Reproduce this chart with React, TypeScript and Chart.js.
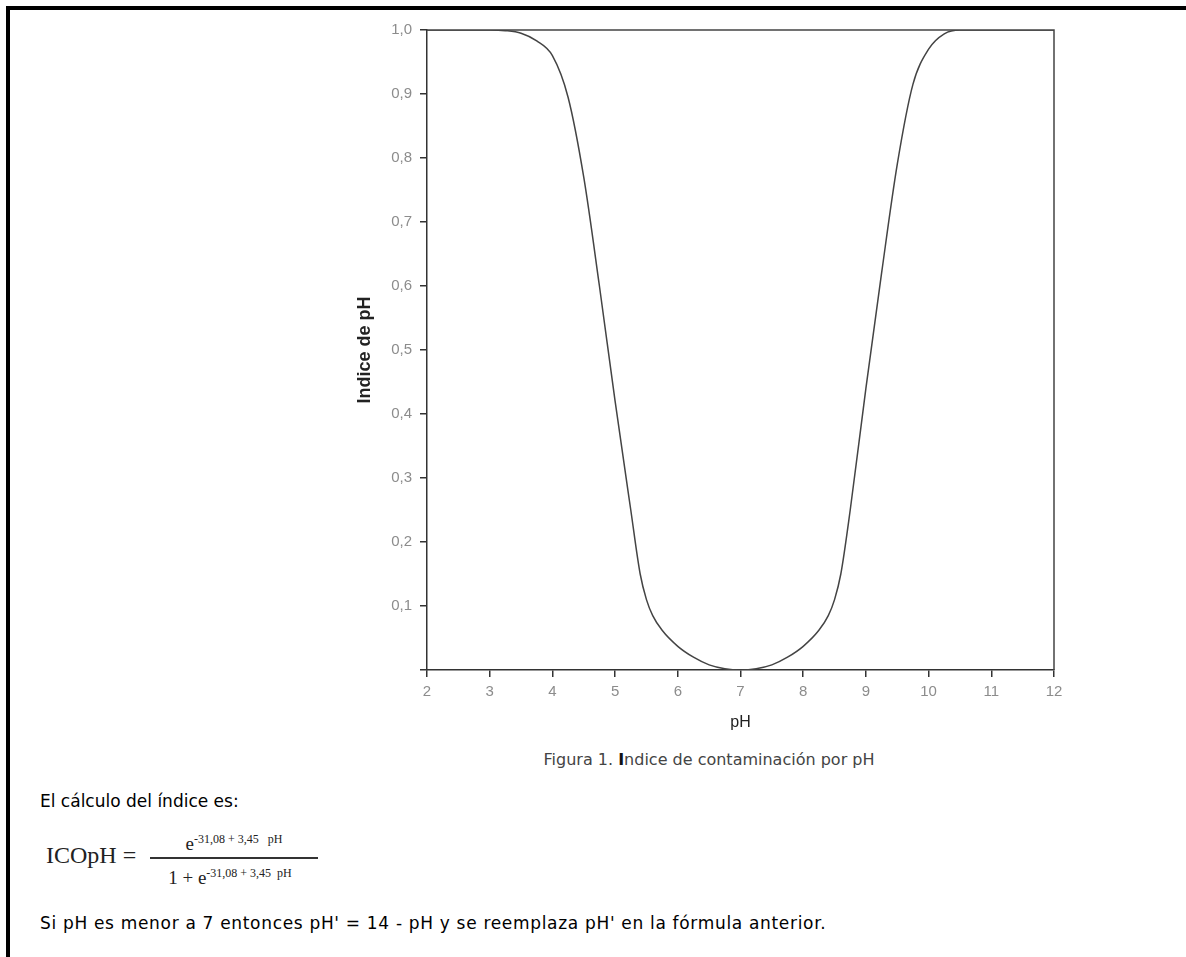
import React, { useEffect, useRef } from 'react';
import { Chart, registerables } from 'chart.js';

Chart.register(...registerables);

const phValues = [2, 2.5, 3, 3.25, 3.5, 3.75, 4, 4.25, 4.5, 4.75, 5, 5.25, 5.4, 5.5, 5.6, 5.75, 6, 6.25, 6.5, 6.75, 7, 7.25, 7.5, 7.75, 8, 8.25, 8.4, 8.5, 8.6, 8.75, 9, 9.25, 9.5, 9.75, 10, 10.25, 10.5, 11, 11.5, 12];
const indexValues = [1, 1, 1, 0.999, 0.995, 0.983, 0.96, 0.895, 0.77, 0.6, 0.42, 0.25, 0.15, 0.11, 0.085, 0.062, 0.037, 0.02, 0.008, 0.002, 0, 0.002, 0.008, 0.02, 0.037, 0.062, 0.085, 0.11, 0.15, 0.25, 0.44, 0.62, 0.79, 0.915, 0.97, 0.994, 1, 1, 1, 1];
const xTitle = 'pH';
const yTitle = 'Indice de pH';
const xMin = 2;
const xMax = 12;
const yMin = 0;
const yMax = 1;

const framePlugin = {
  id: 'frame',
  afterDatasetsDraw(chart: any) {
    const { ctx, chartArea } = chart;
    ctx.save();
    ctx.strokeStyle = '#444';
    ctx.lineWidth = 1.5;
    ctx.beginPath();
    ctx.moveTo(chartArea.left, chartArea.top);
    ctx.lineTo(chartArea.right, chartArea.top);
    ctx.lineTo(chartArea.right, chartArea.bottom);
    ctx.stroke();
    ctx.restore();
  },
};

function PhChart() {
  const ref = useRef<HTMLCanvasElement | null>(null);
  useEffect(() => {
    if (!ref.current) return;
    const points = phValues.map((x, i) => ({ x, y: indexValues[i] }));
    const tickFont = { family: 'Liberation Sans', size: 15 };
    const chart = new Chart(ref.current, {
      type: 'line',
      data: {
        datasets: [
          {
            data: points,
            borderColor: '#444',
            borderWidth: 1.5,
            pointRadius: 0,
            fill: false,
            cubicInterpolationMode: 'monotone',
          },
        ],
      },
      options: {
        animation: false,
        responsive: false,
        layout: { padding: { top: 30, right: 46, left: 0, bottom: 0 } },
        plugins: { legend: { display: false }, tooltip: { enabled: false } },
        scales: {
          x: {
            type: 'linear',
            min: xMin,
            max: xMax,
            ticks: { stepSize: 1, color: '#8c8c8c', font: tickFont, padding: 6, maxRotation: 0 },
            grid: { drawOnChartArea: false, drawTicks: true, tickLength: 7, color: '#333', lineWidth: 1.5 },
            border: { display: true, color: '#333', width: 1.5 },
            title: { display: true, text: xTitle, color: '#222', font: { family: 'Liberation Sans', size: 16 }, padding: { top: 0, bottom: 8 } },
            afterFit(scale: any) {
              scale.height = 70;
            },
          },
          y: {
            type: 'linear',
            min: yMin,
            max: yMax,
            ticks: {
              stepSize: 0.1,
              color: '#8c8c8c',
              font: tickFont,
              padding: 8,
              callback: (v: any) => (Math.abs(v) < 1e-9 ? '' : Number(v).toFixed(1).replace('.', ',')),
            },
            grid: { drawOnChartArea: false, drawTicks: true, tickLength: 7, color: '#333', lineWidth: 1.5 },
            border: { display: true, color: '#333', width: 1.5 },
            title: { display: true, text: yTitle, color: '#222', font: { family: 'Liberation Sans', size: 18, weight: 'bold' }, padding: { top: 14, bottom: 0 } },
            afterFit(scale: any) {
              scale.width = 87;
            },
          },
        },
      },
      plugins: [framePlugin],
    } as any);
    return () => chart.destroy();
  }, []);
  return (
    <canvas
      ref={ref}
      width={760}
      height={740}
      style={{ position: 'absolute', left: 340, top: 0, width: 760, height: 740 }}
    />
  );
}

export default function App() {
  const sans = '"DejaVu Sans", Verdana, sans-serif';
  const serif = '"Liberation Serif", "Times New Roman", serif';
  return (
    <div style={{ position: 'fixed', left: 0, top: 0, width: 1186, height: 957, overflow: 'hidden', background: '#fff' }}>
      <div
        style={{
          position: 'absolute',
          left: 6,
          top: 6,
          width: 1300,
          height: 1100,
          borderTop: '4px solid #000',
          borderLeft: '4px solid #000',
        }}
      />
      <PhChart />
      <div
        style={{
          position: 'absolute',
          left: 709,
          top: 750,
          transform: 'translateX(-50%)',
          whiteSpace: 'nowrap',
          fontFamily: sans,
          fontSize: 16,
          color: '#444',
          lineHeight: '20px',
        }}
      >
        Figura 1. <b style={{ color: '#111' }}>I</b>ndice de contaminación por pH
      </div>
      <div
        style={{
          position: 'absolute',
          left: 40,
          top: 790,
          whiteSpace: 'nowrap',
          fontFamily: sans,
          fontSize: 17,
          color: '#000',
          lineHeight: '22px',
        }}
      >
        El cálculo del índice es:
      </div>
      <div
        style={{
          position: 'absolute',
          left: 46,
          top: 841,
          whiteSpace: 'nowrap',
          fontFamily: serif,
          fontSize: 24,
          color: '#222',
          lineHeight: '28px',
        }}
      >
        ICOpH =
      </div>
      <div
        style={{
          position: 'absolute',
          left: 150,
          width: 168,
          top: 824,
          textAlign: 'center',
          whiteSpace: 'nowrap',
          fontFamily: serif,
          fontSize: 19,
          color: '#222',
          lineHeight: '30px',
        }}
      >
        e<sup style={{ fontSize: 12 }}>-31,08 + 3,45&nbsp;&nbsp; pH</sup>
      </div>
      <div style={{ position: 'absolute', left: 150, width: 168, top: 857, height: 1.5, background: '#333' }} />
      <div
        style={{
          position: 'absolute',
          left: 146,
          width: 168,
          top: 858,
          textAlign: 'center',
          whiteSpace: 'nowrap',
          fontFamily: serif,
          fontSize: 19,
          color: '#222',
          lineHeight: '30px',
        }}
      >
        1 + e<sup style={{ fontSize: 12 }}>-31,08 + 3,45&nbsp; pH</sup>
      </div>
      <div
        style={{
          position: 'absolute',
          left: 40,
          top: 912,
          whiteSpace: 'nowrap',
          fontFamily: sans,
          fontSize: 17,
          letterSpacing: 0.68,
          color: '#000',
          lineHeight: '22px',
        }}
      >
        Si pH es menor a 7 entonces pH' = 14 - pH y se reemplaza pH' en la fórmula anterior.
      </div>
    </div>
  );
}
